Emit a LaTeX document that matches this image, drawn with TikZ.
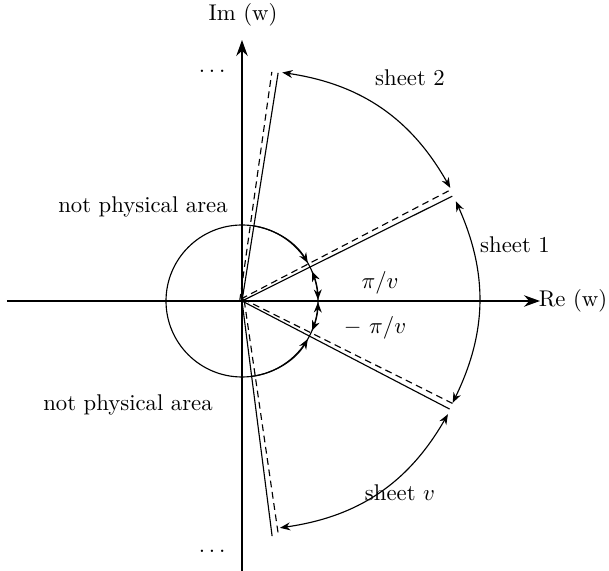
\documentclass[tikz,border=0pt]{standalone}
\usepackage{amsmath}
\usetikzlibrary{arrows.meta, calc}

\begin{document}
\begin{tikzpicture}[x=0.44pt, y=0.44pt,
    axis/.style={line width=0.9pt, -{Stealth[length=7pt, width=5pt]}},
    cut/.style={line width=0.5pt},
    lip/.style={line width=0.5pt, dash pattern=on 3pt off 2pt},
    swap/.style={line width=0.5pt, {Stealth[length=4.5pt, width=3.5pt]}-{Stealth[length=4.5pt, width=3.5pt]}},
    into/.style={line width=0.5pt, -{Stealth[length=4.5pt, width=3.5pt]}},
]
    \useasboundingbox (-242,-270) rectangle (367,301);

    % axes
    \coordinate (O) at (0,0);
    \coordinate (xl) at (-235,0);
    \coordinate (xr) at (298,0);
    \coordinate (yb) at (0,-270);
    \coordinate (yt) at (0,261);
    \draw[axis] (xl) -- (xr);
    \draw[axis] (yb) -- (yt);
    \node (re) at (331,0) {Re (w)};
    \node (im) at (1,286) {Im (w)};

    % cuts, solid with dashed lip beside
    \coordinate (a) at (81:231);
    \coordinate (b) at (26.5:235);
    \coordinate (c) at (-27.5:234);
    \coordinate (d) at (-82.7:237);
    \draw[cut] (O) -- (a);
    \draw[cut] (O) -- (b);
    \draw[cut] (O) -- (c);
    \draw[cut] (O) -- (d);
    \draw[lip] ($(O)!1pt!90:(a)$) -- ($(a)!2.8pt!-90:(O)$);
    \draw[lip] ($(O)!1pt!90:(b)$) -- ($(b)!2.8pt!-90:(O)$);
    \draw[lip] ($(O)!1pt!90:(c)$) -- ($(c)!2.8pt!-90:(O)$);
    \draw[lip] ($(O)!1pt!90:(d)$) -- ($(d)!2.8pt!-90:(O)$);

    % sheets
    \coordinate (a2) at (80:232);
    \coordinate (b2) at (28.5:237);
    \coordinate (b1) at (25:236);
    \coordinate (c1) at (-25.8:234);
    \coordinate (c3) at (-28.8:235);
    \coordinate (d3) at (-80.5:230);
    \draw[swap] (b2) to[bend right=26] (a2);
    \draw[swap] (b1) to[bend left=25] (c1);
    \draw[swap] (c3) to[bend left=26] (d3);
    \node (sh2) at (168,223) {sheet 2};
    \node (sh1) at (273,56) {sheet 1};
    \node (shv) at (158,-192) {sheet $v$};

    % unit circle and angles
    \draw[cut] (O) circle[radius=76];
    \draw[into] (81:76) arc[start angle=81, end angle=30, radius=76];
    \draw[into] (-82.7:76) arc[start angle=-82.7, end angle=-30, radius=76];
    \draw[swap] (23:76) arc[start angle=23, end angle=1, radius=76];
    \draw[swap] (-1:76) arc[start angle=-1, end angle=-23, radius=76];
    \node (ang) at (138,18) {$\pi/v$};
    \node (nang) at (133,-27) {$-\ \pi/v$};

    \node (np1) at (-99,94) {not physical area};
    \node (np2) at (-114,-104) {not physical area};
    \node[anchor=base] (dt) at (-28,228) {$\dots$};
    \node[anchor=base] (db) at (-28,-252) {$\dots$};
\end{tikzpicture}
\end{document}
